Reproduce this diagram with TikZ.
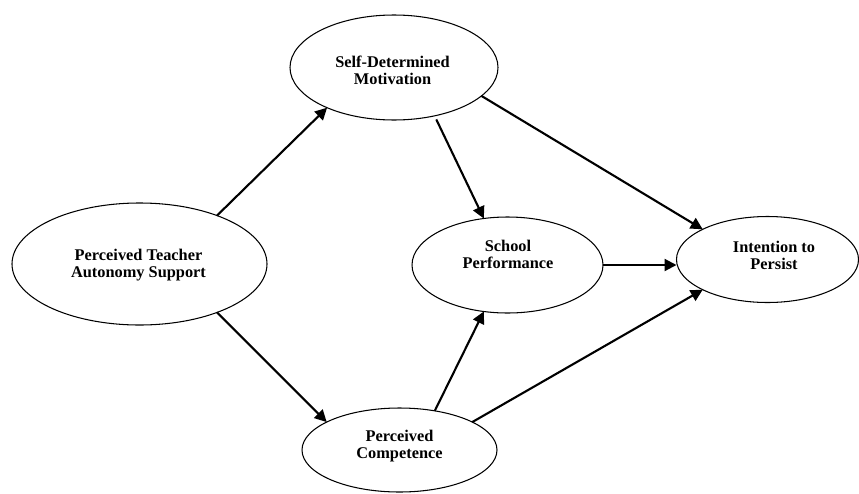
\documentclass[tikz,border=0pt]{standalone}
\usepackage{fontspec}
\setmainfont{Liberation Serif}
\usetikzlibrary{shapes.geometric,arrows.meta}
\begin{document}
\begin{tikzpicture}[scale = 1,
    latent/.style={draw, ellipse, line width=0.6pt, inner sep=0pt, outer sep=0pt},
    lbl/.style={align=center, inner sep=0pt, font=\fontsize{9.3}{9.6}\selectfont\bfseries},
    effect/.style={line width=1.2pt, -{Triangle[length=6.8pt,width=6.8pt]}}]
    \useasboundingbox (0,0) rectangle (17.18,9.86);
    \node[latent, minimum width=5.10cm, minimum height=2.44cm] (ptas) at (2.79,4.58) {};
    \node[latent, minimum width=4.16cm, minimum height=2.10cm] (sdm) at (7.88,8.51) {};
    \node[latent, minimum width=3.82cm, minimum height=1.92cm] (sp) at (10.15,4.56) {};
    \node[latent, minimum width=3.64cm, minimum height=1.72cm] (itp) at (15.35,4.67) {};
    \node[latent, minimum width=3.90cm, minimum height=1.68cm] (pc) at (7.99,0.86) {};
    \node[lbl] (ptastext) at (2.77,4.55) {Perceived Teacher\\Autonomy Support};
    \node[lbl] (sdmtext) at (7.85,8.46) {Self-Determined\\Motivation};
    \node[lbl] (sptext) at (10.16,4.78) {School\\Performance};
    \node[lbl] (itptext) at (15.48,4.76) {Intention to\\Persist};
    \node[lbl] (pctext) at (7.99,0.94) {Perceived\\Competence};
    \draw[effect] (ptas.32) -- (sdm.211);
    \draw[effect] (ptas.328) -- (pc.159);
    \draw[effect, shorten <=0.08cm] (sdm.310) -- (sp.117);
    \draw[effect] (sdm.342) -- (itp.155);
    \draw[effect] (sp.east) -- (sp.east -| itp.west);
    \draw[effect] (pc.48) -- (sp.243);
    \draw[effect] (pc.21) -- (itp.205);
\end{tikzpicture}
\end{document}
